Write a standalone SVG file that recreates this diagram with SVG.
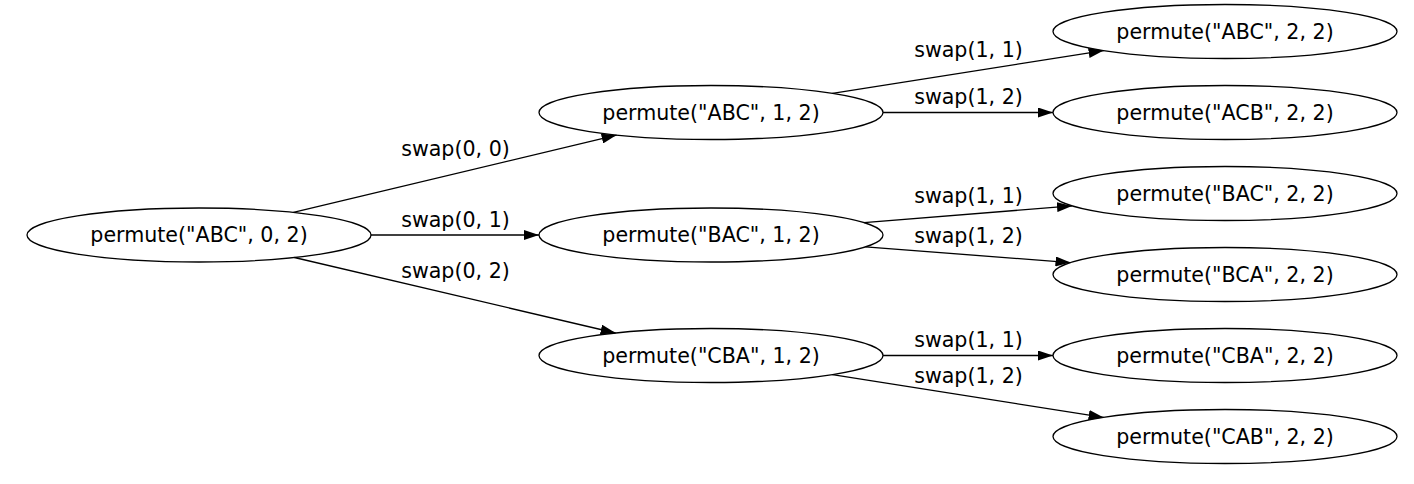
<svg xmlns="http://www.w3.org/2000/svg" width="1414" height="484" viewBox="0 0 1414 484">
<style>
.node ellipse{fill:none;stroke:#000;stroke-width:1.3}
text{font-family:"DejaVu Sans","Liberation Sans",sans-serif;font-size:20.6px;fill:#000;text-anchor:middle}
.edge line{stroke:#000;stroke-width:1.3;fill:none}
</style>
<defs>
<marker id="arr" viewBox="0 0 15 10" refX="15" refY="5" markerWidth="15" markerHeight="10" markerUnits="userSpaceOnUse" orient="auto">
<path d="M0,0 L15,5 L0,10 z" fill="#000"/>
</marker>
</defs>
<rect width="1414" height="484" fill="#fff"/>
<g id="edges" class="edge">
<line x1="293.4" y1="212.4" x2="616.6" y2="135.1" marker-end="url(#arr)"/>
<line x1="371" y1="235" x2="539" y2="235" marker-end="url(#arr)"/>
<line x1="294.4" y1="257.5" x2="615.6" y2="333" marker-end="url(#arr)"/>
<line x1="832.4" y1="93.4" x2="1103.6" y2="50.6" marker-end="url(#arr)"/>
<line x1="883" y1="112.5" x2="1053" y2="112.5" marker-end="url(#arr)"/>
<line x1="864" y1="222.6" x2="1072" y2="205.9" marker-end="url(#arr)"/>
<line x1="865.5" y1="246.9" x2="1070.5" y2="262.6" marker-end="url(#arr)"/>
<line x1="883" y1="355.5" x2="1053" y2="355.5" marker-end="url(#arr)"/>
<line x1="832.4" y1="374.6" x2="1103.6" y2="417.4" marker-end="url(#arr)"/>
<text x="455.5" y="156">swap(0, 0)</text>
<text x="455.5" y="226.5">swap(0, 1)</text>
<text x="455.5" y="277.5">swap(0, 2)</text>
<text x="968.5" y="56.5">swap(1, 1)</text>
<text x="968.5" y="104">swap(1, 2)</text>
<text x="968.5" y="203">swap(1, 1)</text>
<text x="968.5" y="243">swap(1, 2)</text>
<text x="968.5" y="346.5">swap(1, 1)</text>
<text x="968.5" y="383">swap(1, 2)</text>
</g>
<g id="n_root" class="node"><ellipse cx="199" cy="235" rx="172" ry="27"/><text x="199" y="242.3">permute("ABC", 0, 2)</text></g>
<g id="n_ABC1" class="node"><ellipse cx="711" cy="112.5" rx="172" ry="27"/><text x="711" y="119.8">permute("ABC", 1, 2)</text></g>
<g id="n_BAC1" class="node"><ellipse cx="711" cy="235" rx="172" ry="27"/><text x="711" y="242.3">permute("BAC", 1, 2)</text></g>
<g id="n_CBA1" class="node"><ellipse cx="711" cy="355.5" rx="172" ry="27"/><text x="711" y="362.8">permute("CBA", 1, 2)</text></g>
<g id="n_ABC2" class="node"><ellipse cx="1225" cy="31.5" rx="172" ry="27"/><text x="1225" y="38.8">permute("ABC", 2, 2)</text></g>
<g id="n_ACB2" class="node"><ellipse cx="1225" cy="112.5" rx="172" ry="27"/><text x="1225" y="119.8">permute("ACB", 2, 2)</text></g>
<g id="n_BAC2" class="node"><ellipse cx="1225" cy="193.5" rx="172" ry="27"/><text x="1225" y="200.8">permute("BAC", 2, 2)</text></g>
<g id="n_BCA2" class="node"><ellipse cx="1225" cy="274.5" rx="172" ry="27"/><text x="1225" y="281.8">permute("BCA", 2, 2)</text></g>
<g id="n_CBA2" class="node"><ellipse cx="1225" cy="355.5" rx="172" ry="27"/><text x="1225" y="362.8">permute("CBA", 2, 2)</text></g>
<g id="n_CAB2" class="node"><ellipse cx="1225" cy="436.5" rx="172" ry="27"/><text x="1225" y="443.8">permute("CAB", 2, 2)</text></g>
</svg>
